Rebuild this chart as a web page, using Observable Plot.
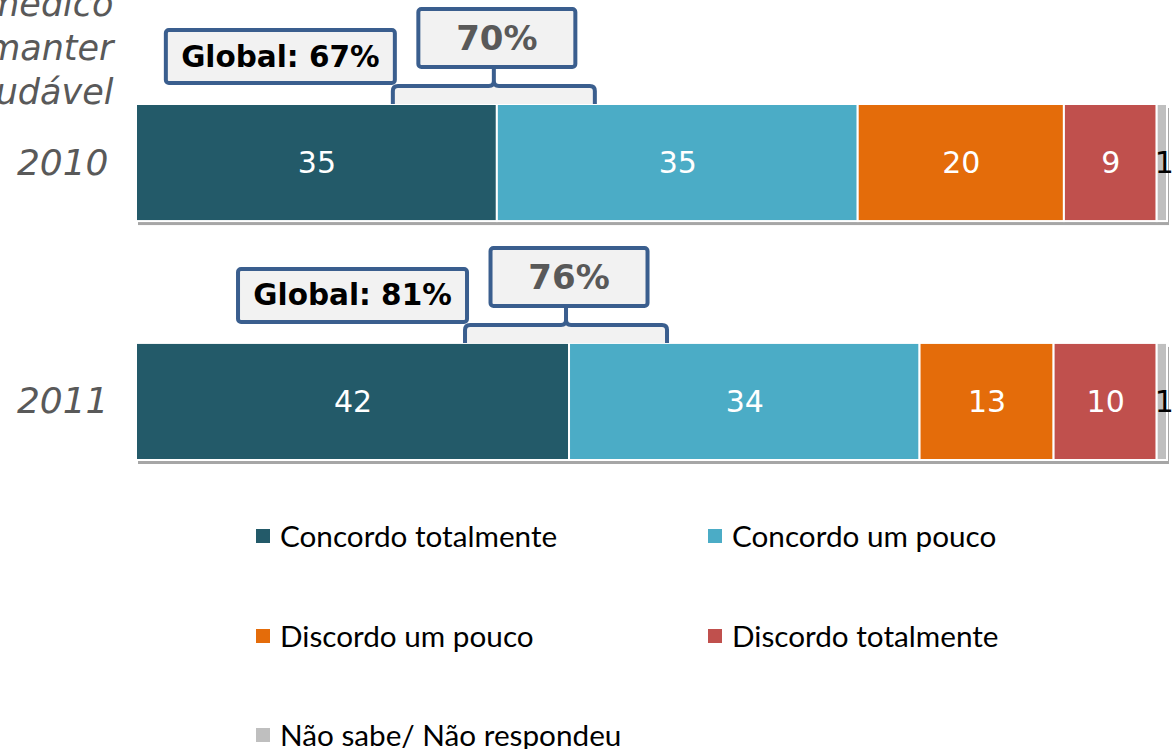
<!DOCTYPE html>
<html><head><meta charset="utf-8">
<script src="https://cdn.jsdelivr.net/npm/d3@7"></script>
<script src="https://cdn.jsdelivr.net/npm/@observablehq/plot@0.6"></script>
<style>
body{margin:0;background:#fff;width:1172px;height:749px;overflow:hidden;}
#chart svg{display:block;}
#chart g[aria-label="shadow"]{filter:blur(2px);}
#chart g[aria-label="y-axis tick label"] text{fill:#595959;font-style:italic;}
#legend{position:relative;width:1172px;height:249px;font-family:Lato, "Open Sans", sans-serif;font-size:29.7px;color:#000;}
.item{position:absolute;display:flex;align-items:center;white-space:nowrap;height:36px;line-height:36px;}
.sw{width:14px;height:14px;margin-right:10px;flex:none;}
</style></head><body><div id="chart"></div><div id="legend"></div>
<script>
const years = ["2010", "2011"];
const categories = ["Concordo totalmente", "Concordo um pouco", "Discordo um pouco", "Discordo totalmente", "Não sabe/ Não respondeu"];
const values2010 = [35, 35, 20, 9, 1];
const values2011 = [42, 34, 13, 10, 1];
const globalPct = [67, 81];
const colors = ["#235A69", "#4BACC6", "#E46C0A", "#C0504D", "#BFBFBF"];
const titleLines = ["médico", "manter", "saudável"];

const valuesByYear = [values2010, values2011];
const rows = [];
years.forEach((yr, i) => categories.forEach((c, j) => rows.push({year: yr, category: c, value: valuesByYear[i][j]})));
const totals = years.map((yr, i) => ({year: yr, total: d3.sum(valuesByYear[i])}));
const lastCat = categories[categories.length - 1];

const chart = Plot.plot({
  width: 1172,
  height: 500,
  marginLeft: 136,
  marginRight: 5,
  marginTop: 104,
  marginBottom: 40,
  style: {fontFamily: "'DejaVu Sans', Verdana, sans-serif", background: "transparent"},
  x: {domain: [0, 100], axis: null},
  y: {domain: years, paddingInner: 0.51, paddingOuter: 0, round: false, label: null},
  color: {domain: categories, range: colors},
  marks: [
    Plot.barX(totals, {x: "total", y: "year", fill: "#000", fillOpacity: 0.35, dy: 4, dx: 2, ariaLabel: "shadow"}),
    Plot.barX(rows, {x: "value", y: "year", fill: "category", stroke: "white", strokeWidth: 2}),
    Plot.text(rows, Plot.stackX({x: "value", y: "year", z: "category",
      text: d => d.category !== lastCat ? String(d.value) : null, fill: "white", fontSize: 30})),
    Plot.text(rows, Plot.stackX({x: "value", y: "year", z: "category",
      text: d => d.category === lastCat ? String(d.value) : null, fill: "black", fontSize: 30, dx: 2})),
    Plot.axisY({tickSize: 0, tickPadding: 28, fontSize: 36, fontStyle: "italic", fill: "#595959", label: null}),
    Plot.text([titleLines.join("\n")], {frameAnchor: "top-left", textAnchor: "end", lineAnchor: "middle", dx: -23, dy: -59,
      fontSize: 35, fontStyle: "italic", fill: "#595959", lineHeight: 1.26})
  ]
});
document.getElementById("chart").append(chart);

// Callout annotations placed via the plot's own scales
const xs = chart.scale("x"), ys = chart.scale("y");
const xf = xs.apply ? (v => xs.apply(v)) : d3.scaleLinear(xs.domain, xs.range);
const yf = ys.apply ? (v => ys.apply(v)) : d3.scaleBand(ys.domain, ys.range).paddingInner(0.51).paddingOuter(0);
const svg = d3.select(chart);
const g = svg.append("g").attr("aria-label", "callouts");
const blue = "#3A5E8E", boxFill = "#F2F2F2";
years.forEach((yr, i) => {
  const ct = valuesByYear[i][0];
  const agree = valuesByYear[i][0] + valuesByYear[i][1];
  const xb = xf(ct), yt = yf(yr);
  const cx = xb - 3, hw = 101, yb = yt - 18, r = 5;
  g.append("rect").attr("x", cx - hw).attr("y", yb).attr("width", 2 * hw).attr("height", yt - yb).attr("fill", boxFill);
  const p = `M${cx - hw},${yt} V${yb + r} Q${cx - hw},${yb} ${cx - hw + r},${yb} H${cx - r} Q${cx},${yb} ${cx},${yb - r} V${yt - 37}
             M${cx},${yb - r} Q${cx},${yb} ${cx + r},${yb} H${cx + hw - r} Q${cx + hw},${yb} ${cx + hw},${yb + r} V${yt}`;
  g.append("path").attr("d", p).attr("fill", "none").attr("stroke", blue).attr("stroke-width", 4);
  g.append("rect").attr("x", xb - 78.5).attr("y", yt - 95).attr("width", 157).attr("height", 58).attr("rx", 3)
    .attr("fill", boxFill).attr("stroke", blue).attr("stroke-width", 4);
  g.append("text").attr("x", xb).attr("y", yt - 66).attr("text-anchor", "middle").attr("dominant-baseline", "central")
    .attr("font-family", "'DejaVu Sans', Verdana, sans-serif").attr("font-weight", "bold").attr("font-size", 34)
    .attr("fill", "#595959").text(agree + "%");
  const gx = xb - 102 - 229;
  g.append("rect").attr("x", gx).attr("y", yt - 74).attr("width", 229).attr("height", 53).attr("rx", 3)
    .attr("fill", boxFill).attr("stroke", blue).attr("stroke-width", 4);
  g.append("text").attr("x", gx + 114.5).attr("y", yt - 47.5).attr("text-anchor", "middle").attr("dominant-baseline", "central")
    .attr("font-family", "'DejaVu Sans', Verdana, sans-serif").attr("font-weight", "bold").attr("font-size", 29.5)
    .attr("fill", "#000").text("Global: " + globalPct[i] + "%");
});

// Legend (HTML, below the SVG)
const legend = d3.select("#legend");
const rowCenters = [36, 136, 235], colLefts = [256, 708];
categories.forEach((c, j) => {
  const item = legend.append("div").attr("class", "item")
    .style("left", colLefts[j % 2] + "px").style("top", (rowCenters[Math.floor(j / 2)] - 18) + "px");
  item.append("div").attr("class", "sw").style("background", colors[j]);
  item.append("span").text(c);
});
</script>
</body></html>
